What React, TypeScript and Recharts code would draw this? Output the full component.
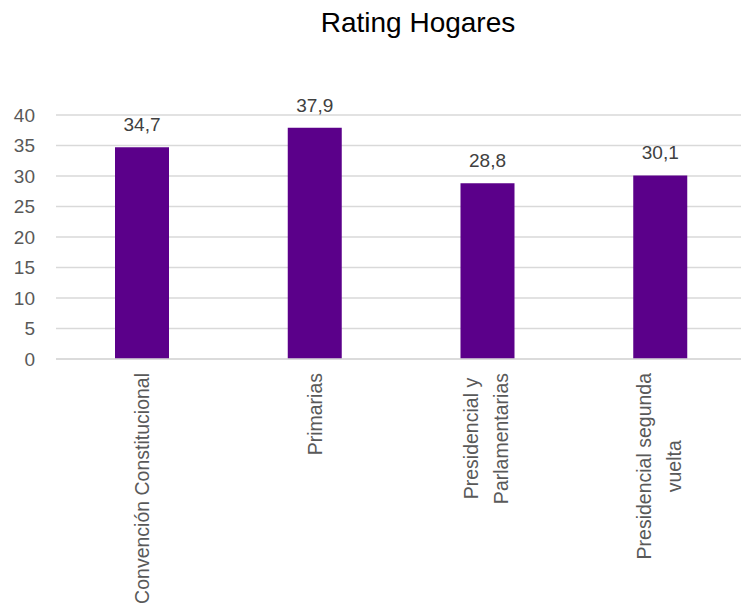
import React from 'react'
import { BarChart, Bar, XAxis, YAxis, CartesianGrid, LabelList } from 'recharts'

const categories = [
  'Convención Constitucional',
  'Primarias',
  'Presidencial y\nParlamentarias',
  'Presidencial segunda\nvuelta',
]
const ratings = [34.7, 37.9, 28.8, 30.1]
const yTicks = [0, 5, 10, 15, 20, 25, 30, 35, 40]

const chartData = categories.map((name, i) => ({ name, value: ratings[i] }))

const FONT = '"Liberation Sans", Arial, sans-serif'
const TICK_FONT_SIZE = 19.5

let measureCtx: CanvasRenderingContext2D | null = null
function textWidth(s: string) {
  if (!measureCtx) {
    measureCtx = document.createElement('canvas').getContext('2d')
  }
  if (!measureCtx) return s.length * TICK_FONT_SIZE * 0.5
  measureCtx.font = `${TICK_FONT_SIZE}px ${FONT}`
  return measureCtx.measureText(s).width
}

function CategoryTick(props: any) {
  const { x, y, payload } = props
  const lines: string[] = String(payload.value).split('\n')
  // baselines relative to category centre (rotated frame)
  const offsets = lines.length === 1 ? [7] : [-10, 20]
  const maxW = Math.max(...lines.map(textWidth))
  const mid = -(14 + maxW / 2)
  return (
    <g transform={`translate(${x},${y})`}>
      <text
        transform="rotate(-90)"
        textAnchor="middle"
        fill="#595959"
        fontSize={TICK_FONT_SIZE}
        fontFamily={FONT}
      >
        {lines.map((line, i) => (
          <tspan key={i} x={mid} y={offsets[i]}>
            {line}
          </tspan>
        ))}
      </text>
    </g>
  )
}

const formatLabel = (v: any) => String(v).replace('.', ',')

export default function App() {
  return (
    <div
      style={{
        position: 'absolute',
        left: 0,
        top: 0,
        width: 741,
        height: 606,
        overflow: 'hidden',
        background: '#fff',
        fontFamily: FONT,
      }}
    >
      <div
        style={{
          position: 'absolute',
          left: 418,
          top: 9,
          transform: 'translateX(-50%)',
          whiteSpace: 'nowrap',
          fontSize: 28,
          lineHeight: '28px',
          color: '#000',
        }}
      >
        Rating Hogares
      </div>
      <BarChart
        width={760}
        height={606}
        data={chartData}
        margin={{ top: 115, right: 13, bottom: 0, left: 0 }}
      >
        <CartesianGrid vertical={false} stroke="#d9d9d9" strokeWidth={1.5} />
        <XAxis
          dataKey="name"
          height={247}
          interval={0}
          tickLine={false}
          tickSize={0}
          tickMargin={0}
          axisLine={{ stroke: '#d9d9d9', strokeWidth: 1.5 }}
          tick={<CategoryTick />}
        />
        <YAxis
          width={56}
          domain={[0, 40]}
          ticks={yTicks}
          axisLine={false}
          tickLine={false}
          tickSize={0}
          tickMargin={21}
          tick={{ fill: '#595959', fontSize: 19, fontFamily: FONT }}
        />
        <Bar dataKey="value" fill="#5b008a" barSize={54} isAnimationActive={false}>
          <LabelList
            dataKey="value"
            position="top"
            offset={16}
            formatter={formatLabel}
            fill="#404040"
            fontSize={19}
            fontFamily={FONT}
          />
        </Bar>
      </BarChart>
    </div>
  )
}
